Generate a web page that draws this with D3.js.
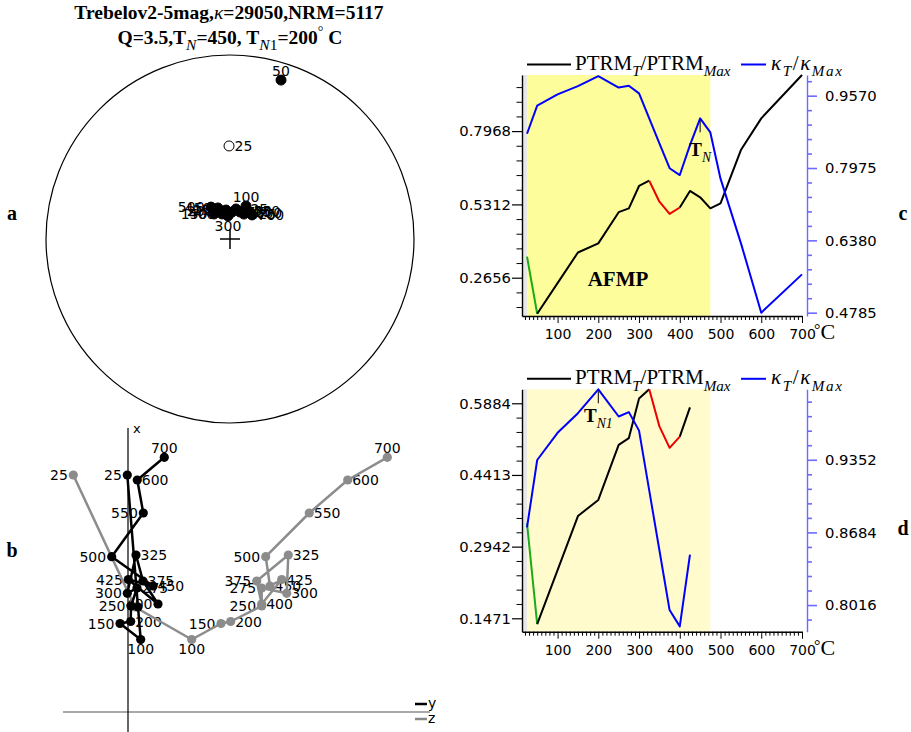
<!DOCTYPE html>
<html><head><meta charset="utf-8">
<script src="https://cdn.jsdelivr.net/npm/d3@7"></script>
<style>body{margin:0;background:#fff}svg{display:block}</style>
</head><body>
<svg id="fig" width="911" height="732"></svg>
<script>
// ---------- thermomagnetic curves (panels c, d) ----------
const temps = [25,50,100,150,200,250,275,300,325,350,375,400,425,450,475,500,550,600,700];
const ptrm  = [0.342,0.135,0.246,0.357,0.390,0.503,0.517,0.598,0.617,0.541,0.497,0.520,0.580,0.557,0.517,0.535,0.728,0.843,1.000];
const kappa = [0.873,0.935,0.960,0.978,1.000,0.975,0.979,0.962,0.907,0.852,0.797,0.782,0.848,0.907,0.876,0.774,0.632,0.4785,0.563];
const xTicks = [100,200,300,400,500,600,700];
const shadeRange = [25,475];
const cLeftTicks  = [0.2656,0.5312,0.7968];
const cRightTicks = [0.4785,0.6380,0.7975,0.9570];
const dLeftTicks  = [0.1471,0.2942,0.4413,0.5884];
const dRightTicks = [0.8016,0.8684,0.9352];

// ---------- demagnetisation steps (panels a, b) ----------
const steps = [25,50,100,150,200,250,275,300,325,375,400,425,450,500,550,600,700];
// vector components, arbitrary units
const compX = [2370,1050,725,885,905,1060,1240,1187,1570,1310,1080,1325,1260,1553,1990,2320,2547];
const compY = [-7,100,127,-80,27,30,90,-7,80,150,300,3,250,-163,153,93,363];
const compZ = [-547,70,637,930,1027,1337,1337,1587,1603,1287,1337,1537,1420,1377,1813,2197,2593];
// directions for the equal-area net
const decl = [359.4,17.8,25.9,327.4,340.4,352.2,4.2,355.0,11.3,20.3,342.3,29.2,338.8,329.3,32.7,37.6,42.5];
const incl = [-48.1,10.2,73.8,76.9,76.9,77.1,78.1,79.8,76.5,77.3,78.4,77.4,75.3,73.6,75.3,75.5,75.6];
// label placement per step
const stereoLabelSide = ['r','t','t','l','l','l','r','b','r','r','l','r','l','l','r','r','r'];
const zyLabelSide = ['l','','b','l','r','l','r','l','r','r','l','l','r','l','l','r','t'];
const zzLabelSide = ['l','','b','l','r','l','l','r','r','l','r','r','r','l','r','r','t'];

const svg = d3.select('#fig');
const SERIF = '"Liberation Serif","Times New Roman",serif';
const SANS = '"DejaVu Sans",sans-serif';

// text with sub/superscripts
function rich(g, x, y, parts, size, opts) {
  opts = opts || {};
  const t = g.append('text').attr('x', x).attr('y', y)
    .attr('text-anchor', opts.anchor || 'start')
    .style('font-family', opts.family || SERIF).style('font-size', size + 'px')
    .style('font-weight', opts.bold ? 'bold' : 'normal');
  if (opts.spacing) t.style('letter-spacing', opts.spacing + 'px');
  let shift = 0;
  parts.forEach(p => {
    const s = t.append('tspan').text(p.t);
    const target = p.sub ? size * 0.3 : p.sup ? -size * 0.4 : 0;
    if (target !== shift) { s.attr('dy', target - shift); shift = target; }
    if (p.sub || p.sup) s.style('font-size', (size * (p.scale || 0.72)) + 'px');
    if (p.i) s.style('font-style', 'italic');
    if (p.b === false) s.style('font-weight', 'normal');
    if (p.b === true) s.style('font-weight', 'bold');
  });
  return t;
}

// ---------- title ----------
rich(svg, 229, 19, [
  {t:'Trebelov2-5mag,'}, {t:'κ', i:true, b:false}, {t:'=29050,NRM=5117'}
], 19.5, {anchor:'middle', bold:true});
rich(svg, 230, 44, [
  {t:'Q=3.5,T'}, {t:'N', sub:true, i:true, b:false, scale:0.8}, {t:'=450, T'},
  {t:'N', sub:true, i:true, b:false, scale:0.8}, {t:'1', sub:true, b:false, scale:0.8}, {t:'=200'},
  {t:'°', sup:true, b:false}, {t:' C'}
], 19.5, {anchor:'middle', bold:true});

// panel letters
[['a',12,220],['b',12,557],['c',903,220],['d',903,535]].forEach(([s,x,y]) =>
  svg.append('text').attr('x',x).attr('y',y).attr('text-anchor','middle')
    .style('font-family',SERIF).style('font-weight','bold').style('font-size','20px').text(s));

// ---------- thermomagnetic panels ----------
function minorTicks(majors, n, lo, hi) {
  const step = (majors[1] - majors[0]) / n, out = [];
  const start = majors[0] - Math.floor((majors[0] - lo) / step) * step;
  for (let v = start; v <= hi + 1e-9; v += step) {
    if (!majors.some(m => Math.abs(m - v) < step / 10)) out.push(v);
  }
  return out;
}

function thermoPanel(cfg) {
  const g = svg.append('g');
  const x = d3.scaleLinear().domain([12.7, 700]).range([522, 802]);
  const yL = d3.scaleLinear().domain(cfg.leftDomain).range([cfg.bottom, cfg.top]);
  const yR = d3.scaleLinear().domain(cfg.rightDomain).range([cfg.bottom, cfg.top]);
  const h = cfg.bottom - cfg.top;

  g.append('rect').attr('x', x(12.7)).attr('y', cfg.top).attr('width', x(25) - x(12.7))
    .attr('height', h).attr('fill', '#e8e8e8');
  g.append('rect').attr('x', x(shadeRange[0])).attr('y', cfg.top)
    .attr('width', x(shadeRange[1]) - x(shadeRange[0])).attr('height', h).attr('fill', cfg.shade);

  // axes
  const fmt = d3.format('.4f');
  const la = g.append('g').attr('transform', 'translate(522,0)')
    .call(d3.axisLeft(yL).tickValues(cfg.leftTicks).tickSize(10).tickSizeOuter(0).tickPadding(1).tickFormat(fmt));
  g.append('g').attr('transform', 'translate(522,0)')
    .call(d3.axisLeft(yL).tickValues(minorTicks(cfg.leftTicks, 5, cfg.leftDomain[0], cfg.leftDomain[1]))
      .tickSize(5.5).tickSizeOuter(0).tickFormat(''))
    .select('.domain').remove();
  const ra = g.append('g').attr('transform', 'translate(807,0)')
    .call(d3.axisRight(yR).tickValues(cfg.rightTicks).tickSize(10).tickSizeOuter(0).tickPadding(8).tickFormat(fmt));
  const rm = g.append('g').attr('transform', 'translate(807,0)')
    .call(d3.axisRight(yR).tickValues(minorTicks(cfg.rightTicks, 5, cfg.rightDomain[0], cfg.rightDomain[1]))
      .tickSize(5).tickSizeOuter(0).tickFormat(''));
  rm.select('.domain').remove();
  [ra, rm].forEach(a => {
    a.selectAll('.domain, line').attr('stroke', '#6b6bff').attr('stroke-width', 1.6);
  });
  const ba = g.append('g').attr('transform', `translate(0,${cfg.bottom})`)
    .call(d3.axisBottom(x).tickValues(xTicks).tickSize(7).tickSizeOuter(0).tickPadding(6));
  g.append('g').attr('transform', `translate(0,${cfg.bottom})`)
    .call(d3.axisBottom(x).tickValues(d3.range(20, 700, 10).filter(v => v % 100)).tickSize(4).tickFormat(''))
    .select('.domain').remove();
  [la, ra, ba].forEach(a => a.selectAll('text').style('font-family', SANS).style('font-size', '14.8px').attr('fill', '#000'));
  ba.selectAll('text').style('font-size', '14px');
  g.selectAll('.domain').attr('stroke-width', 1.4);
  la.selectAll('line').attr('stroke-width', 1.2);
  g.append('text').attr('x', x(700) + 12).attr('y', cfg.bottom + 23)
    .style('font-family', SERIF).style('font-size', '22px')
    .call(t => { t.append('tspan').text('°').attr('dy', -4).style('font-size', '16px');
                 t.append('tspan').text('C').attr('dy', 4); });

  // curves
  const keep = temps.map((t, i) => i).filter(i => temps[i] <= cfg.tMax);
  const lineL = d3.line().x(i => x(temps[i])).y(i => yL(ptrm[i]));
  const lineR = d3.line().x(i => x(temps[i])).y(i => yR(kappa[i]));
  const seg = (a, b) => keep.filter(i => temps[i] >= a && temps[i] <= b);
  [[25, 50, '#1aaa1a'], [50, 325, '#000'], [325, 400, '#ee0000'], [400, 700, '#000']].forEach(([a, b, c]) => {
    const idx = seg(a, b);
    if (idx.length > 1) g.append('path').attr('d', lineL(idx)).attr('fill', 'none')
      .attr('stroke', c).attr('stroke-width', 2).attr('stroke-linejoin', 'round');
  });
  g.append('path').attr('d', lineR(keep)).attr('fill', 'none').attr('stroke', '#0000ff')
    .attr('stroke-width', 2).attr('stroke-linejoin', 'round');

  // transition-temperature marker
  const ai = temps.indexOf(cfg.markT);
  const ax = x(cfg.markT), ay = yR(kappa[ai]);
  g.append('line').attr('x1', ax).attr('x2', ax).attr('y1', ay + 2).attr('y2', ay + 14)
    .attr('stroke', '#000').attr('stroke-width', 1);
  rich(g, ax, ay + cfg.markDy, [{t:'T', b:true}].concat(cfg.markSub), 19, {anchor:'middle'});

  // legend
  const ly = cfg.top - 10.5;
  g.append('line').attr('x1', 527).attr('x2', 571).attr('y1', ly).attr('y2', ly).attr('stroke', '#000').attr('stroke-width', 2);
  rich(g, 575, ly + 5.5, [{t:'PTRM'}, {t:'T', sub:true, i:true}, {t:'/PTRM'}, {t:'Max', sub:true, i:true}], 21);
  g.append('line').attr('x1', 741).attr('x2', 766).attr('y1', ly).attr('y2', ly).attr('stroke', '#0000ff').attr('stroke-width', 2);
  rich(g, 771, ly + 5.5, [{t:'κ', i:true}, {t:'T', sub:true, i:true}, {t:'/'}, {t:'κ', i:true}, {t:'Max', sub:true, i:true}], 21, {spacing: 1.6});
  return {g, x, yL, yR};
}

const pc = thermoPanel({
  top: 75, bottom: 316, leftDomain: [0.1269, 1.0], rightDomain: [0.4712, 1.0026],
  leftTicks: cLeftTicks, rightTicks: cRightTicks, shade: '#fdfd9c', tMax: 700,
  markT: 450, markDy: 37.5, markSub: [{t:'N', sub:true, i:true}]
});
pc.g.append('text').attr('x', 618).attr('y', 286).attr('text-anchor', 'middle')
  .style('font-family', SERIF).style('font-weight', 'bold').style('font-size', '21px').text('AFMP');

thermoPanel({
  top: 389.3, bottom: 631.7, leftDomain: [0.1196, 0.6171], rightDomain: [0.7771, 1.0],
  leftTicks: dLeftTicks, rightTicks: dRightTicks, shade: '#fffbcc', tMax: 425,
  markT: 200, markDy: 33, markSub: [{t:'N1', sub:true, i:true}]
});

// ---------- equal-area net (panel a) ----------
const net = {cx: 230, cy: 239, r: 184};
const sx = d3.scaleLinear().domain([-1, 1]).range([net.cx - net.r, net.cx + net.r]);
const sy = d3.scaleLinear().domain([-1, 1]).range([net.cy + net.r, net.cy - net.r]);
const rad = Math.PI / 180;
function project(dec, inc) {
  const r = Math.SQRT2 * Math.sin((90 - Math.abs(inc)) * rad / 2);
  return [sx(r * Math.sin(dec * rad)), sy(r * Math.cos(dec * rad))];
}
const ga = svg.append('g');
ga.append('ellipse').attr('cx', sx(0)).attr('cy', sy(0)).attr('rx', sx(1) - sx(0)).attr('ry', sy(-1) - sy(0))
  .attr('fill', 'none').attr('stroke', '#000').attr('stroke-width', 1.2);
const c0 = [sx(0), sy(0)];
ga.append('path').attr('d', `M${c0[0]-10},${c0[1]}H${c0[0]+10}M${c0[0]},${c0[1]-10}V${c0[1]+10}`)
  .attr('stroke', '#000').attr('stroke-width', 1.5);

function placeLabel(g, px, py, side, text, r, size) {
  const t = g.append('text').style('font-family', SANS).style('font-size', (size || 14) + 'px').text(text);
  if (side === 'l') t.attr('x', px - r - 1).attr('y', py).attr('dy', '0.36em').attr('text-anchor', 'end');
  if (side === 'r') t.attr('x', px + r).attr('y', py).attr('dy', '0.36em').attr('text-anchor', 'start');
  if (side === 't') t.attr('x', px).attr('y', py - 4).attr('text-anchor', 'middle');
  if (side === 'b') t.attr('x', px).attr('y', py + 4).attr('dy', '0.76em').attr('text-anchor', 'middle');
}
const sp = steps.map((s, i) => project(decl[i], incl[i]));
steps.forEach((s, i) => placeLabel(ga, sp[i][0], sp[i][1], stereoLabelSide[i], s, 5.5, 14));
steps.forEach((s, i) => {
  ga.append('circle').attr('cx', sp[i][0]).attr('cy', sp[i][1]).attr('r', 5)
    .attr('fill', incl[i] < 0 ? '#fff' : '#000').attr('stroke', '#000').attr('stroke-width', 1);
});

// ---------- orthogonal vector plot (panel b) ----------
const gb = svg.append('g');
const zx = d3.scaleLinear().domain([0, 1000]).range([128, 228]);
const zy = d3.scaleLinear().domain([0, 1000]).range([712, 612]);
gb.append('line').attr('x1', zx(-650)).attr('x2', zx(3020)).attr('y1', zy(0)).attr('y2', zy(0))
  .attr('stroke', '#555').attr('stroke-width', 1.2);
gb.append('line').attr('x1', zx(0)).attr('x2', zx(0)).attr('y1', zy(2840)).attr('y2', zy(-220))
  .attr('stroke', '#000').attr('stroke-width', 1.2);
gb.append('text').attr('x', zx(50)).attr('y', zy(2790)).style('font-family', SANS).style('font-size', '13px').text('x');
[['y', '#000', 704], ['z', '#888', 719]].forEach(([s, c, y]) => {
  gb.append('line').attr('x1', 415).attr('x2', 427).attr('y1', y).attr('y2', y).attr('stroke', c).attr('stroke-width', 2.5);
  gb.append('text').attr('x', 428).attr('y', y).attr('dy', '0.3em').style('font-family', SANS).style('font-size', '14px').text(s);
});

const series = [
  {h: compZ, color: '#8c8c8c', side: zzLabelSide},
  {h: compY, color: '#000', side: zyLabelSide}
];
series.forEach(sr => {
  steps.forEach((s, i) => { if (sr.side[i]) placeLabel(gb, zx(sr.h[i]), zy(compX[i]), sr.side[i], s, 4.5, 14); });
});
series.forEach(sr => {
  const line = d3.line().x(i => zx(sr.h[i])).y(i => zy(compX[i]));
  gb.append('path').attr('d', line(d3.range(steps.length))).attr('fill', 'none')
    .attr('stroke', sr.color).attr('stroke-width', 2.5).attr('stroke-linejoin', 'round');
  steps.forEach((s, i) => gb.append('circle').attr('cx', zx(sr.h[i])).attr('cy', zy(compX[i]))
    .attr('r', 4.6).attr('fill', sr.color));
});
</script>
</body></html>
